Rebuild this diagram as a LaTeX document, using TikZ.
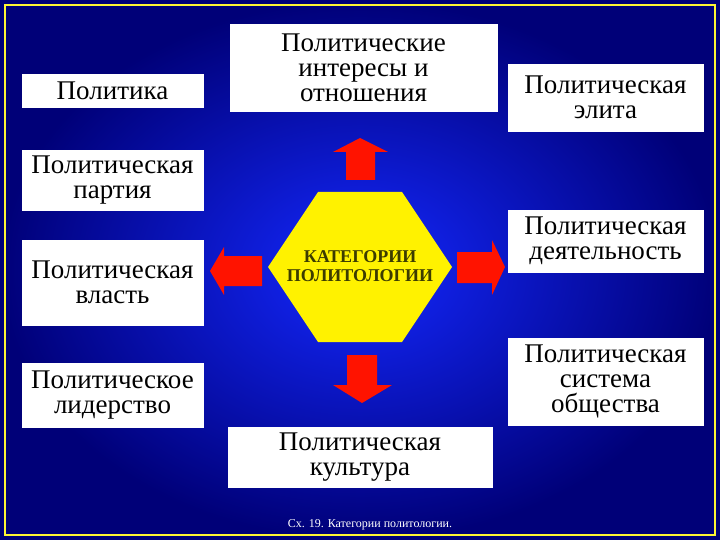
\documentclass[tikz,border=0pt]{standalone}
\usepackage{fontspec}
\setmainfont{Liberation Serif}
\begin{document}
\begin{tikzpicture}[x=1pt,y=-1pt,
  wb/.style={fill=white,draw=white,align=center,font=\fontsize{27}{25}\selectfont,inner sep=0pt},
  arr/.style={fill=red!85!orange,draw=none}]
\useasboundingbox (0,0) rectangle (720,540);
\shade[inner color={rgb,255:red,20;green,40;blue,255},outer color={rgb,255:red,0;green,0;blue,120}] (0,0) rectangle (720,540);
\draw[yellow!80!white,line width=2] (5,5) rectangle (715,535);
\node[wb,minimum width=181,minimum height=33] (pol) at (112.5,90.5) {Политика};
\node[wb,minimum width=267,minimum height=87] (int) at (363.5,67.5) {Политические\\интересы и\\отношения};
\node[wb,minimum width=195,minimum height=67] (eli) at (605.5,97.5) {Политическая\\элита};
\node[wb,minimum width=181,minimum height=60] (par) at (112.5,180) {Политическая\\партия};
\node[wb,minimum width=181,minimum height=85] (vla) at (112.5,282.5) {Политическая\\власть};
\node[wb,minimum width=195,minimum height=62] (dey) at (605.5,241) {Политическая\\деятельность};
\node[wb,minimum width=181,minimum height=64] (lid) at (112.5,395) {Политическое\\лидерство};
\node[wb,minimum width=195,minimum height=87] (sys) at (605.5,381.5) {Политическая\\система\\общества};
\node[wb,minimum width=264,minimum height=60] (kul) at (360,457) {Политическая\\культура};
\fill[yellow] (268,267) -- (318,192) -- (402,192) -- (452,267) -- (402,342) -- (318,342) -- cycle;
\node[align=center,font=\bfseries\fontsize{18}{19}\selectfont,text={rgb,255:red,60;green,60;blue,0}] (hex) at (360,266) {КАТЕГОРИИ\\ПОЛИТОЛОГИИ};
% arrows
\fill[arr] (346,180) -- (346,152) -- (333,152) -- (360,138) -- (388,152) -- (375,152) -- (375,180) -- cycle;
\fill[arr] (262,256) -- (224,256) -- (224,247) -- (210,271) -- (224,295) -- (224,286) -- (262,286) -- cycle;
\fill[arr] (457,252) -- (492,252) -- (492,240) -- (505,267) -- (492,295) -- (492,283) -- (457,283) -- cycle;
\fill[arr] (347,355) -- (347,385) -- (333,385) -- (362,403) -- (392,385) -- (377,385) -- (377,355) -- cycle;
\node[text=white,font=\fontsize{12}{13}\selectfont] (cap) at (370,525) {Сх. 19. Категории политологии.};
\end{tikzpicture}
\end{document}
